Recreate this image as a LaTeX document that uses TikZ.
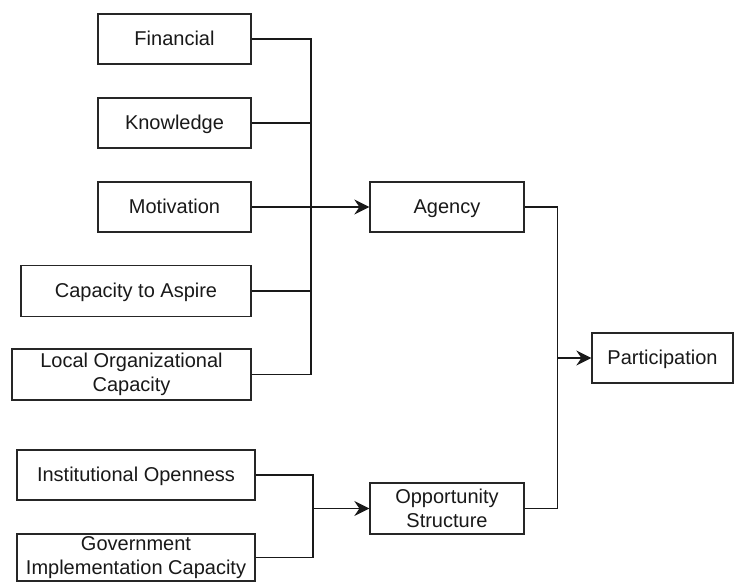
\documentclass[tikz,border=0pt]{standalone}
\usepackage{fontspec}
\setmainfont{Liberation Sans}
\usetikzlibrary{arrows.meta}
\begin{document}
\begin{tikzpicture}[x=1pt,y=-1pt,
  box/.style={draw=black!85,line width=1.3pt,fill=white,align=center,inner sep=0pt,
    font=\fontsize{20}{24}\selectfont,text=black!90},
  onebox/.style={box,text height=18.5pt,text depth=4.6pt},
  conn/.style={draw=black!90,line width=1.4pt},
  arr/.style={conn,-{Stealth[length=15pt,width=15pt,inset=5pt]}}]
\useasboundingbox (0,0) rectangle (734,582);
\node[onebox,minimum width=153pt,minimum height=50pt] (fin) at (174.5,39) {Financial};
\node[onebox,minimum width=153pt,minimum height=50pt] (know) at (174.5,123) {Knowledge};
\node[onebox,minimum width=153pt,minimum height=50pt] (mot) at (174.5,207) {Motivation};
\node[onebox,minimum width=230pt,minimum height=51pt] (cap) at (136,291) {Capacity to Aspire};
\node[box,minimum width=239pt,minimum height=51pt] (loc) at (131.5,374.5) {Local Organizational\\Capacity};
\node[onebox,minimum width=238pt,minimum height=50pt] (inst) at (136,475) {Institutional Openness};
\node[box,minimum width=238pt,minimum height=47pt] (gov) at (136,557.5) {Government\\Implementation Capacity};
\node[onebox,minimum width=154pt,minimum height=50pt] (agency) at (447,207) {Agency};
\node[box,minimum width=154pt,minimum height=51pt] (opp) at (447,508.5) {Opportunity\\Structure};
\node[onebox,minimum width=141pt,minimum height=50pt] (part) at (662.5,358) {Participation};
\coordinate (b1) at (311,374.5);
\coordinate (b2) at (557.5,358);
\coordinate (b3) at (313,508.5);
\draw[conn] (fin.east) -| (b1);
\draw[conn] (know.east) -- (know.east -| b1);
\draw[conn] (cap.east) -- (cap.east -| b1);
\draw[conn] (loc.east) -- (b1);
\draw[arr] (mot.east) -- (agency.west);
\draw[conn] (agency.east) -| (b2) |- (opp.east);
\draw[arr] (b2) -- (part.west);
\draw[conn] (inst.east) -| (b3) |- (gov.east);
\draw[arr] (b3) -- (opp.west);
\end{tikzpicture}
\end{document}
